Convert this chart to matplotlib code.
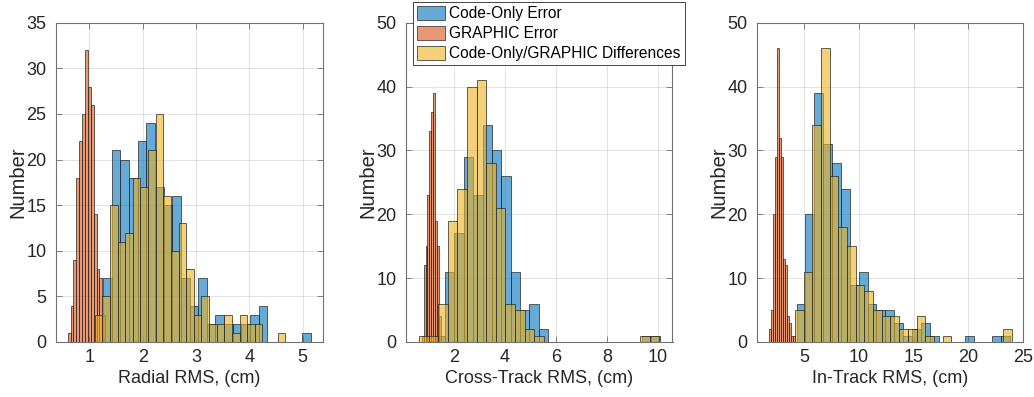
import numpy as np
import matplotlib
matplotlib.use('Agg')
import matplotlib.pyplot as plt
from matplotlib.patches import Patch

plt.rcParams['font.family'] = ['Liberation Sans', 'DejaVu Sans']

# histogram data: (first bin edge, bin width, counts)
# radial
rad_code_start, rad_code_width = 1.256, 0.1622
rad_code = [7, 21, 20, 18, 22, 24, 17, 15, 16, 7, 4, 7, 2, 3, 2, 2, 2, 3, 4, 0, 0, 0, 0, 1]
rad_graphic_start, rad_graphic_width = 0.594, 0.0542
rad_graphic = [1, 4, 9, 18, 22, 25, 32, 28, 26, 14, 8, 7, 3]
rad_diff_start, rad_diff_width = 1.100, 0.143
rad_diff = [3, 5, 15, 11, 12, 18, 17, 21, 25, 16, 10, 13, 8, 3, 5, 2, 2, 3, 1, 3, 2, 2, 0, 0, 1]

# cross-track
cross_code_start, cross_code_width = 1.294, 0.367
cross_code = [1, 11, 17, 29, 23, 34, 30, 26, 11, 5, 6, 2, 0, 0, 0, 0, 0, 0, 0, 0, 0, 0, 1, 1]
cross_graphic_start, cross_graphic_width = 0.745, 0.0758
cross_graphic = [1, 12, 15, 23, 33, 36, 39, 19, 15, 4]
cross_diff_start, cross_diff_width = 0.640, 0.3765
cross_diff = [1, 1, 6, 19, 24, 40, 41, 28, 21, 6, 5, 2, 1, 0, 0, 0, 0, 0, 0, 0, 0, 0, 0, 1, 1]

# in-track
in_code_start, in_code_width = 4.284, 0.8135
in_code = [6, 20, 39, 31, 28, 24, 9, 11, 6, 5, 5, 3, 1, 2, 3, 1, 0, 0, 0, 1, 0, 0, 1, 1]
in_graphic_start, in_graphic_width = 1.79, 0.1835
in_graphic = [2, 5, 20, 29, 46, 32, 29, 13, 12, 4, 3, 1, 1]
in_diff_start, in_diff_width = 4.144, 0.795
in_diff = [5, 11, 34, 46, 26, 18, 15, 9, 8, 5, 4, 4, 2, 2, 4, 1, 0, 1, 0, 0, 0, 0, 0, 0, 2]

labels = ['Code-Only Error', 'GRAPHIC Error', 'Code-Only/GRAPHIC Differences']
xlabels = ['Radial RMS, (cm)', 'Cross-Track RMS, (cm)', 'In-Track RMS, (cm)']

blue = (0.0, 0.447, 0.741)
red = (0.85, 0.325, 0.098)
gold = (0.929, 0.694, 0.125)
edge = '#262626'
axcol = '#707070'

W, H = 1034, 397
fig = plt.figure(figsize=(W / 100, H / 100), dpi=100)

# axes boxes in pixels (left, right)
boxes = [(56, 322.7), (406, 672.5), (757.3, 1022.7)]
top_px, bot_px = 22.7, 342
axes = []
for l, r in boxes:
    ax = fig.add_axes([l / W, (H - bot_px) / H, (r - l) / W, (bot_px - top_px) / H])
    axes.append(ax)


def hist(ax, start, width, counts, color):
    counts = np.array(counts)
    edges = start + width * np.arange(len(counts))
    keep = counts > 0
    ax.bar(edges[keep], counts[keep], width=width, align='edge',
           facecolor=color + (0.6,), edgecolor=edge, linewidth=0.5)


panels = [
    [(rad_code_start, rad_code_width, rad_code),
     (rad_graphic_start, rad_graphic_width, rad_graphic),
     (rad_diff_start, rad_diff_width, rad_diff)],
    [(cross_code_start, cross_code_width, cross_code),
     (cross_graphic_start, cross_graphic_width, cross_graphic),
     (cross_diff_start, cross_diff_width, cross_diff)],
    [(in_code_start, in_code_width, in_code),
     (in_graphic_start, in_graphic_width, in_graphic),
     (in_diff_start, in_diff_width, in_diff)],
]
xlims = [(0.375, 5.375), (0.13, 10.575), (0.69, 25.0)]
xticks = [[1, 2, 3, 4, 5], [2, 4, 6, 8, 10], [5, 10, 15, 20, 25]]
ylims = [35, 50, 50]
yticks = [np.arange(0, 36, 5), np.arange(0, 51, 10), np.arange(0, 51, 10)]

for i, ax in enumerate(axes):
    for (s, w, c), col in zip(panels[i], [blue, red, gold]):
        hist(ax, s, w, c, col)
    ax.set_xlim(*xlims[i])
    ax.set_ylim(0, ylims[i])
    ax.set_xticks(xticks[i])
    ax.set_yticks(yticks[i])
    ax.set_axisbelow(True)
    ax.grid(True, color=edge, alpha=0.15, linewidth=0.6)
    for sp in ax.spines.values():
        sp.set_color(axcol)
        sp.set_linewidth(0.8)
    ax.tick_params(direction='in', length=4, width=0.6, color=axcol,
                   top=True, right=True, labelsize=13, labelcolor='#262626')
    ax.tick_params(axis='y', pad=7)
    ax.tick_params(axis='x', pad=5)
    ax.set_xlabel(xlabels[i], fontsize=13, color='#262626', labelpad=3)
    ax.set_ylabel('Number', fontsize=14.5, color='#262626', labelpad=-1)

handles = [Patch(facecolor=c + (0.6,), edgecolor=edge, linewidth=0.5) for c in [blue, red, gold]]
leg = axes[1].legend(handles, labels, loc='upper left',
                     bbox_to_anchor=(412.7 / W, 1 - 1.7 / H), bbox_transform=fig.transFigure,
                     fontsize=11.2, fancybox=False, framealpha=1, borderpad=0.25,
                     handlelength=1.85, handleheight=1.05, handletextpad=0.25,
                     labelspacing=0.3, borderaxespad=0)
leg.get_frame().set_edgecolor(edge)
leg.get_frame().set_linewidth(0.6)

fig.savefig('out.png', dpi=100)
